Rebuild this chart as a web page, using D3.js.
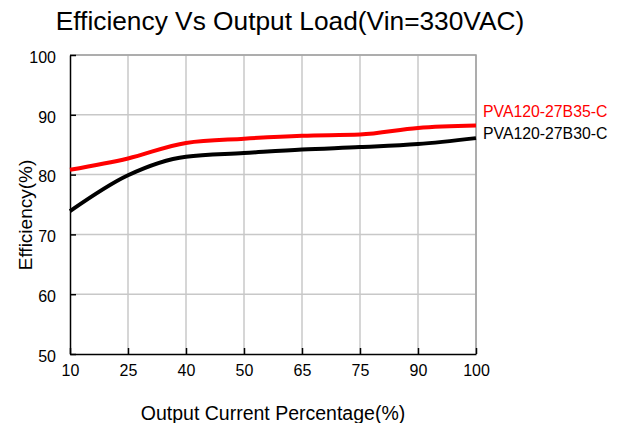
<!DOCTYPE html>
<html>
<head>
<meta charset="utf-8">
<script src="https://cdn.jsdelivr.net/npm/d3@7"></script>
<style>
  body { margin: 0; background: #fff; }
  text { font-family: "Liberation Sans", Arial, sans-serif; }
</style>
</head>
<body>
<svg id="chart" width="620" height="423"></svg>
<script>
var loads = ["10", "25", "40", "50", "65", "75", "90", "100"];
var eff35 = [80.8, 82.7, 85.3, 86.0, 86.5, 86.7, 87.8, 88.2];
var eff30 = [73.9, 79.9, 83.0, 83.6, 84.2, 84.6, 85.1, 86.1];
var yTicks = [50, 60, 70, 80, 90, 100];
var seriesNames = ["PVA120-27B35-C", "PVA120-27B30-C"];
var seriesColors = ["#ff0000", "#000000"];

var margin = {top: 55, right: 144, bottom: 69, left: 70},
    width = 620 - margin.left - margin.right,
    height = 423 - margin.top - margin.bottom;

var svg = d3.select("#chart");
var g = svg.append("g")
    .attr("transform", "translate(" + margin.left + "," + margin.top + ")");

var x = d3.scalePoint().domain(loads).range([0, width]),
    y = d3.scaleLinear().domain([50, 100]).range([height, 0]);

// grid
g.append("g").selectAll("line")
  .data(loads.slice(1))
  .enter().append("line")
    .attr("x1", function(d) { return x(d); })
    .attr("x2", function(d) { return x(d); })
    .attr("y1", 0)
    .attr("y2", height)
    .style("stroke", "#c8c8c8")
    .style("stroke-width", "1.5px");

g.append("g").selectAll("line")
  .data(yTicks.slice(1))
  .enter().append("line")
    .attr("x1", 0)
    .attr("x2", width)
    .attr("y1", function(d) { return y(d); })
    .attr("y2", function(d) { return y(d); })
    .style("stroke", "#c8c8c8")
    .style("stroke-width", "1.5px");

// top & right border
g.append("path")
    .attr("d", "M0,0H" + width + "V" + height)
    .style("fill", "none")
    .style("stroke", "#a0a0a0")
    .style("stroke-width", "1.5px");

var xAxis = d3.axisBottom(x).tickSizeInner(-6).tickSizeOuter(0).tickPadding(14);
var yAxis = d3.axisLeft(y).tickValues(yTicks).tickSizeInner(-6).tickSizeOuter(0).tickPadding(14);

var xg = g.append("g")
    .attr("transform", "translate(0," + height + ")")
    .call(xAxis);
var yg = g.append("g").call(yAxis);

[xg, yg].forEach(function(a) {
  a.select(".domain").style("stroke", "#000").style("stroke-width", "1.5px");
  a.selectAll(".tick line").style("stroke", "#000").style("stroke-width", "1.5px");
  a.selectAll(".tick text")
    .attr("font-family", "Liberation Sans, Arial, sans-serif")
    .attr("font-size", "16px")
    .attr("fill", "#000");
});
xg.selectAll(".tick text").attr("dy", "0.5em");
yg.selectAll(".tick text").attr("dy", "0.45em");

var line = d3.line()
    .curve(d3.curveMonotoneX)
    .x(function(d, i) { return x(loads[i]); })
    .y(function(d) { return y(d); });

var series = [eff35, eff30];

g.selectAll(".series")
  .data(series)
  .enter().append("path")
    .attr("class", "series")
    .attr("d", function(d) { return line(d); })
    .style("fill", "none")
    .style("stroke", function(d, i) { return seriesColors[i]; })
    .style("stroke-width", "4px");

// labels at line ends
g.selectAll(".lbl")
  .data(seriesNames)
  .enter().append("text")
    .attr("class", "lbl")
    .attr("x", width + 7)
    .attr("y", function(d, i) { return i == 0 ? y(eff35[eff35.length - 1]) - 9 : y(eff30[eff30.length - 1]) + 1; })
    .attr("font-size", "15.8px")
    .attr("fill", function(d, i) { return seriesColors[i]; })
    .text(function(d) { return d; });

svg.append("text")
    .attr("x", 290)
    .attr("y", 30)
    .attr("text-anchor", "middle")
    .attr("font-size", "26.3px")
    .text("Efficiency Vs Output Load(Vin=330VAC)");

svg.append("text")
    .attr("x", 273)
    .attr("y", 420)
    .attr("text-anchor", "middle")
    .attr("font-size", "19.5px")
    .text("Output Current Percentage(%)");

svg.append("text")
    .attr("transform", "translate(32,215) rotate(-90)")
    .attr("text-anchor", "middle")
    .attr("font-size", "19px")
    .text("Efficiency(%)");
</script>
</body>
</html>
